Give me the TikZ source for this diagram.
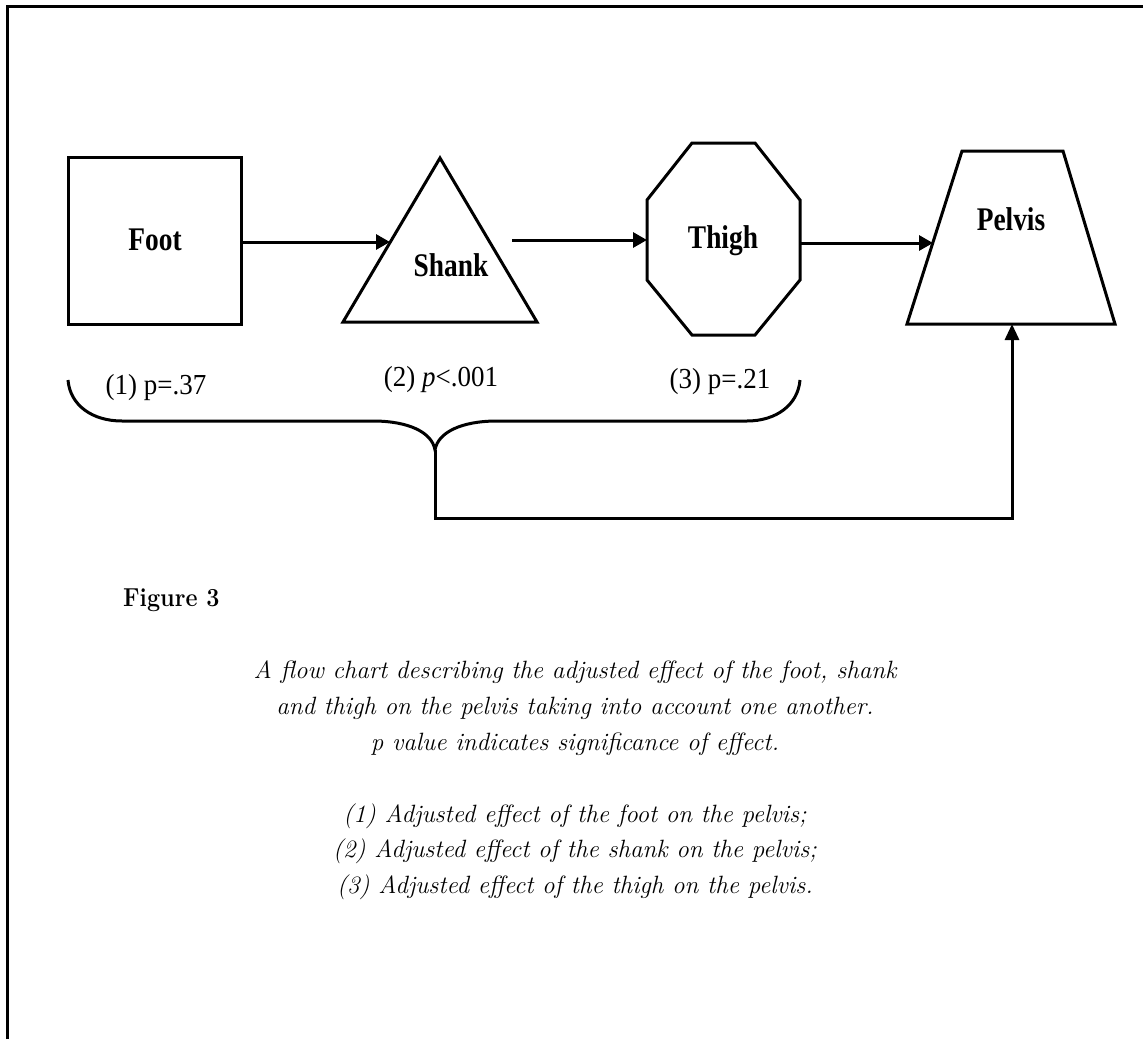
\documentclass[tikz,border=0pt]{standalone}
\usepackage{fontspec}
\usepackage{graphicx}
\newfontfamily\tnr{Liberation Serif}
\usetikzlibrary{arrows.meta}
\newcommand{\sqz}[1]{\scalebox{0.83}[1]{#1}}
\newcommand{\sqy}[1]{\scalebox{0.93}[1]{#1}}
\begin{document}
\begin{tikzpicture}[x=1pt,y=-1pt,line join=miter,
  shp/.style={line width=3pt},
  conn/.style={line width=3pt,-{Triangle[length=14pt,width=15pt]}},
  plain/.style={line width=3pt},
  nm/.style={font=\tnr\bfseries\fontsize{33}{36}\selectfont,inner sep=0pt,anchor=base},
  lbl/.style={font=\tnr\fontsize{29}{32}\selectfont,inner sep=0pt,anchor=base},
  captxt/.style={font=\itshape\fontsize{25}{36}\selectfont,inner sep=0pt,anchor=base}]
\useasboundingbox (0,0) rectangle (1143,1039);
% page frame (cropped)
\draw[line width=3pt] (7,1039) -- (7,6) -- (1143,6);

% shapes
\draw[shp] (68,157) rectangle (241,324);
\draw[shp] (440,158) -- (537,322) -- (343,322) -- cycle;
\draw[shp] (692,143) -- (755,143) -- (800,200) -- (800,280) -- (755,335)
  -- (692,335) -- (647,280) -- (647,200) -- cycle;
\draw[shp] (962,151) -- (1063,151) -- (1115,324) -- (907,324) -- cycle;

% anchor points
\coordinate (footE) at (241,242);
\coordinate (shankW) at (390,242);
\coordinate (shankE) at (512,240);
\coordinate (thighW) at (647,240);
\coordinate (thighE) at (800,243);
\coordinate (pelvisW) at (933,243);
\coordinate (pelvisS) at (1012,324);
\coordinate (braceTip) at (435,450);
\coordinate (bendBL) at (435,518);
\coordinate (bendBR) at (1012,518);

% names
\node[nm] (foot) at (155,250) {\sqz{Foot}};
\node[nm] (shank) at (451,276) {\sqz{Shank}};
\node[nm] (thigh) at (723,248) {\sqz{Thigh}};
\node[nm] (pelvis) at (1011,230) {\sqz{Pelvis}};

% arrows
\draw[conn] (footE) -- (shankW);
\draw[conn] (shankE) -- (thighW);
\draw[conn] (thighE) -- (pelvisW);

% p labels
\node[lbl] (p1) at (156,394) {\sqy{(1) p=.37}};
\node[lbl] (p2) at (441,386) {\sqy{(2) \textit{p}<.001}};
\node[lbl] (p3) at (720,388) {\sqy{(3) p=.21}};

% brace
\draw[plain] (68,380) .. controls (70,405) and (92,421) .. (122,421)
  -- (373,421) .. controls (408,421) and (432,432) .. (braceTip)
  .. controls (438,432) and (462,421) .. (497,421)
  -- (747,421) .. controls (776,421) and (798,405) .. (800,380);
\draw[line width=3pt,-{Triangle[length=16pt,width=14pt]}]
  (braceTip) -- (bendBL) -- (bendBR) -- (pelvisS);

% caption
\node[font=\bfseries\fontsize{26}{28}\selectfont,inner sep=0pt,anchor=base west] (fig) at (123,606) {\scalebox{0.9}[1]{Figure 3}};
\node[captxt] (c1) at (575,678) {A flow chart describing the adjusted effect of the foot, shank};
\node[captxt] (c2) at (575,714) {and thigh on the pelvis taking into account one another.};
\node[captxt] (c3) at (575,750) {p value indicates significance of effect.};
\node[captxt] (c4) at (575,822) {(1) Adjusted effect of the foot on the pelvis;};
\node[captxt] (c5) at (575,857) {(2) Adjusted effect of the shank on the pelvis;};
\node[captxt] (c6) at (575,893) {(3) Adjusted effect of the thigh on the pelvis.};
\end{tikzpicture}
\end{document}
